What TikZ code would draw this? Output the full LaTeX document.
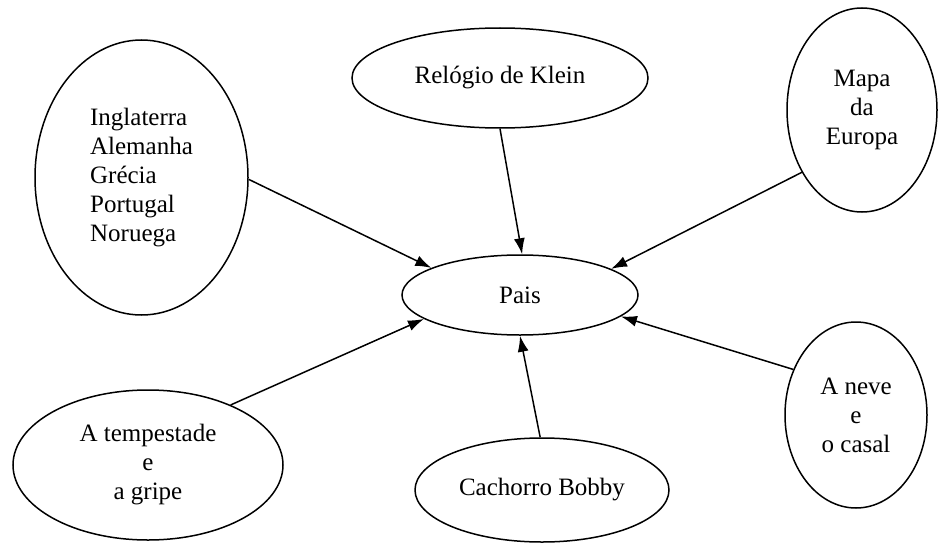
\documentclass[tikz,border=0pt]{standalone}
\usepackage{fontspec}
\setmainfont{Liberation Serif}
\usetikzlibrary{shapes.geometric,arrows.meta}
\begin{document}
\begin{tikzpicture}[x=1pt,y=-1pt,
  oval/.style={draw,ellipse,line width=1.5pt,inner sep=0pt,align=center,
    font=\fontsize{25}{29}\selectfont},
  conn/.style={line width=1.5pt,-{Latex[length=16pt,width=11pt]}}]
\useasboundingbox[fill=white] (0,0) rectangle (939,543);
\node[oval,minimum width=236pt,minimum height=80pt] (pais) at (520,295) {Pais};
\node[oval,minimum width=213pt,minimum height=275pt,align=left] (ing) at (141.5,177.5)
  {Inglaterra\\Alemanha\\Grécia\\Portugal\\Noruega};
\node[oval,minimum width=296pt,minimum height=100pt] (klein) at (500,78) {Relógio de Klein};
\node[oval,minimum width=150pt,minimum height=204pt] (mapa) at (862,110) {Mapa\\da\\Europa};
\node[oval,minimum width=270pt,minimum height=150pt] (temp) at (148,465) {A tempestade\\e\\a gripe};
\node[oval,minimum width=254pt,minimum height=104pt] (cach) at (542,490) {Cachorro Bobby};
\node[oval,minimum width=142pt,minimum height=186pt] (neve) at (856,415) {A neve\\e\\o casal};
\draw[conn] (ing.-1) -- (pais.163.6);
\draw[conn] (klein.270) -- (pais.87);
\draw[conn] (mapa.226) -- (pais.16);
\draw[conn] (temp.36) -- (pais.194.5);
\draw[conn] (cach.92) -- (pais.270);
\draw[conn] (neve.144.5) -- (pais.-12.6);
\end{tikzpicture}
\end{document}
